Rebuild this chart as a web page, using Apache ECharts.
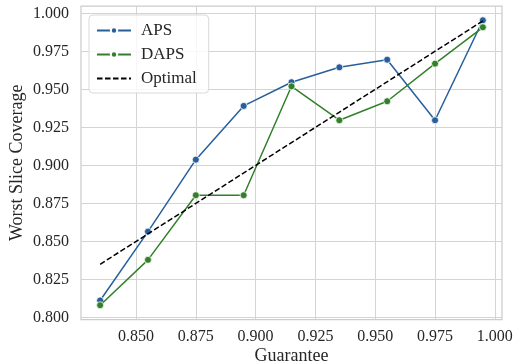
<!DOCTYPE html>
<html>
<head>
<meta charset="utf-8">
<script src="https://cdn.jsdelivr.net/npm/echarts@6/dist/echarts.min.js"></script>
<style>
html,body{margin:0;padding:0;background:#fff;}
#c{width:513px;height:364px;}
</style>
</head>
<body>
<div id="c"></div>
<script>
var guarantee = [0.835, 0.855, 0.875, 0.895, 0.915, 0.935, 0.955, 0.975, 0.995];
var aps  = [0.8112, 0.8565, 0.9038, 0.9391, 0.9547, 0.9645, 0.9695, 0.9297, 0.9954];
var daps = [0.8081, 0.8379, 0.8804, 0.8804, 0.9520, 0.9297, 0.9422, 0.9669, 0.9908];
var optimalX = [0.835, 0.995];
var optimalY = [0.835, 0.995];
var xTicks = [0.850, 0.875, 0.900, 0.925, 0.950, 0.975, 1.000];
var yTicks = [0.800, 0.825, 0.850, 0.875, 0.900, 0.925, 0.950, 0.975, 1.000];

function pairs(xs, ys){ return xs.map(function(x,i){ return [x, ys[i]]; }); }

var FONT = 'Liberation Serif';
var TXT = '#262626';
var GRIDC = '#d4d4d4';

var chart = echarts.init(document.getElementById('c'), null, {renderer:'canvas'});
chart.setOption({
  animation: false,
  backgroundColor: '#ffffff',
  textStyle: {fontFamily: FONT},
  grid: {left: 81, right: 11, top: 6, bottom: 44.5, show: true, borderColor: '#cccccc', borderWidth: 1.25,
    backgroundColor: 'transparent', containLabel: false, outerBoundsMode: 'none'},
  legend: {
    left: 89, top: 15, orient: 'vertical',
    itemWidth: 34, itemHeight: 8, itemGap: 7,
    padding: [7, 12, 6, 7],
    backgroundColor: 'rgba(255,255,255,0.8)',
    borderColor: '#d9d9d9', borderWidth: 1, borderRadius: 4,
    textStyle: {fontFamily: FONT, fontSize: 17, color: TXT, padding: [0,0,0,5]},
    data: ['APS', 'DAPS', {name: 'Optimal', itemStyle: {opacity: 0}}]
  },
  xAxis: {
    type: 'value', min: 0.827, max: 1.003,
    name: 'Guarantee', nameLocation: 'middle', nameGap: 28, nameMoveOverlap: false,
    nameTextStyle: {fontFamily: FONT, fontSize: 18, color: TXT},
    axisLine: {show: false}, axisTick: {show: false, customValues: xTicks},
    axisLabel: {customValues: xTicks, fontFamily: FONT, fontSize: 16, color: TXT, margin: 9,
      formatter: function(v){ return v.toFixed(3); }},
    splitLine: {show: true, customValues: xTicks, lineStyle: {color: GRIDC, width: 1}}
  },
  yAxis: {
    type: 'value', min: 0.7987, max: 1.0048,
    name: 'Worst Slice Coverage', nameLocation: 'middle', nameGap: 55, nameMoveOverlap: false,
    nameTextStyle: {fontFamily: FONT, fontSize: 18, color: TXT},
    axisLine: {show: false}, axisTick: {show: false, customValues: yTicks},
    axisLabel: {customValues: yTicks, fontFamily: FONT, fontSize: 16, color: TXT, margin: 12,
      formatter: function(v){ return v.toFixed(3); }},
    splitLine: {show: true, customValues: yTicks, lineStyle: {color: GRIDC, width: 1}}
  },
  series: [
    {name: 'APS', type: 'line', data: pairs(guarantee, aps), symbol: 'circle', symbolSize: 7,
      lineStyle: {color: '#265f9c', width: 1.5},
      itemStyle: {color: '#265f9c', borderColor: '#ffffff', borderWidth: 0.75}, z: 3},
    {name: 'DAPS', type: 'line', data: pairs(guarantee, daps), symbol: 'circle', symbolSize: 7,
      lineStyle: {color: '#32802a', width: 1.5},
      itemStyle: {color: '#32802a', borderColor: '#ffffff', borderWidth: 0.75}, z: 4},
    {name: 'Optimal', type: 'line', data: pairs(optimalX, optimalY), symbol: 'none', showSymbol: false,
      lineStyle: {color: '#000000', width: 1.5, type: [5.5, 2.5]},
      itemStyle: {color: '#000000'}, z: 5}
  ]
});
</script>
</body>
</html>
